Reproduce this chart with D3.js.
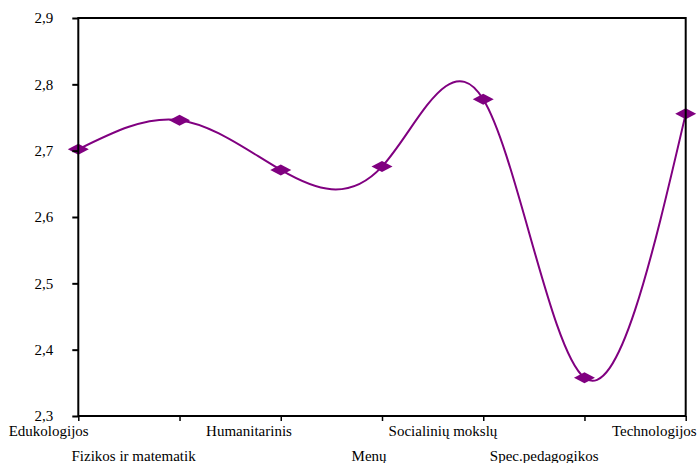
<!DOCTYPE html>
<html>
<head>
<meta charset="utf-8">
<script src="https://cdn.jsdelivr.net/npm/d3@7"></script>
<style>
  html, body { margin: 0; padding: 0; background: #fff; }
  svg { display: block; }
  text { font-family: "Liberation Serif", "Times New Roman", serif; font-size: 15px; fill: #000; }
</style>
</head>
<body>
<svg id="chart" width="700" height="463"></svg>
<script>
const categories = ["Edukologijos", "Fizikos ir matematik", "Humanitarinis", "Menų", "Socialinių mokslų", "Spec.pedagogikos", "Technologijos"];
const values = [2.702, 2.746, 2.671, 2.676, 2.7775, 2.3577, 2.7555];
const yTicks = [2.3, 2.4, 2.5, 2.6, 2.7, 2.8, 2.9];
const yDomain = [2.3, 2.9];

(function () {
  const svg = d3.select("#chart");
  const plotLeft = 78.3, plotRight = 685.7, plotTop = 18, plotBottom = 416;
  const color = "#800080";

  const x = d3.scalePoint().domain(categories).range([plotLeft, plotRight]);
  const y = d3.scaleLinear().domain(yDomain).range([plotBottom, plotTop]);

  // series line (natural cubic spline)
  const line = d3.line()
    .x((d, i) => x(categories[i]))
    .y(d => y(d))
    .curve(d3.curveNatural);

  svg.append("path")
    .datum(values)
    .attr("d", line)
    .attr("fill", "none")
    .attr("stroke", color)
    .attr("stroke-width", 2);

  // diamond markers
  const mw = 10.5, mh = 5.5;
  svg.append("g").selectAll("path")
    .data(values)
    .join("path")
    .attr("transform", (d, i) => `translate(${x(categories[i])},${y(d)})`)
    .attr("d", `M${-mw},0L0,${-mh}L${mw},0L0,${mh}Z`)
    .attr("fill", color);

  // y axis
  const yAxis = d3.axisLeft(y)
    .tickValues(yTicks)
    .tickSize(6)
    .tickSizeOuter(0)
    .tickPadding(19)
    .tickFormat(d => d.toFixed(1).replace(".", ","));
  const gy = svg.append("g").attr("transform", `translate(${plotLeft},0)`).call(yAxis);
  gy.select(".domain").remove();
  gy.selectAll(".tick line").attr("stroke", "#000").attr("stroke-width", 2);
  gy.selectAll(".tick text")
    .style("font-family", "'Liberation Serif', 'Times New Roman', serif")
    .style("font-size", "15px")
    .attr("fill", "#000");

  // x axis ticks
  const xAxis = d3.axisBottom(x).tickSize(5).tickSizeOuter(0).tickFormat("");
  const gx = svg.append("g").attr("transform", `translate(0,${plotBottom})`).call(xAxis);
  gx.select(".domain").remove();
  gx.selectAll(".tick line").attr("stroke", "#000").attr("stroke-width", 1.5);

  // x labels, alternating rows
  const labels = svg.append("g").selectAll("text")
    .data(categories)
    .join("text")
    .attr("y", (d, i) => i % 2 === 0 ? 436 : 461)
    .text(d => d);
  labels.each(function (d) {
    const w = this.getComputedTextLength();
    d3.select(this).attr("x", x(d) - 0.87 * w);
  });

  // plot frame
  svg.append("rect")
    .attr("x", plotLeft)
    .attr("y", plotTop)
    .attr("width", plotRight - plotLeft)
    .attr("height", plotBottom - plotTop)
    .attr("fill", "none")
    .attr("stroke", "#000")
    .attr("stroke-width", 2);
})();
</script>
</body>
</html>
